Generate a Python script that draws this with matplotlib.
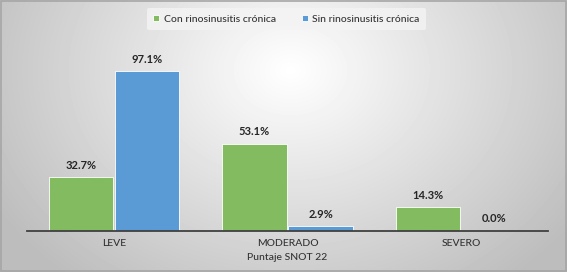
import numpy as np
import matplotlib.pyplot as plt

categorias = ['LEVE', 'MODERADO', 'SEVERO']
con_rs = [32.7, 53.1, 14.3]
sin_rs = [97.1, 2.9, 0.0]
series = ['Con rinosinusitis crónica', 'Sin rinosinusitis crónica']

verde = '#82BB60'
azul = '#5B9BD5'

plt.rcParams['font.family'] = ['Lato', 'DejaVu Sans']

fig = plt.figure(figsize=(5.67, 2.72), dpi=100)

# fondo con degradado radial
bg = fig.add_axes([0, 0, 1, 1])
yy, xx = np.mgrid[0:272, 0:567]
r = np.sqrt(((xx - 290) / 330.0) ** 2 + ((yy - 70) / 260.0) ** 2)
val = np.clip(1.0 - 0.25 * r, 0.74, 1.0)
bg.imshow(val, cmap='gray', vmin=0, vmax=1, aspect='auto', extent=[0, 567, 272, 0])
bg.set_xlim(0, 567)
bg.set_ylim(272, 0)
bg.axis('off')
bg.add_patch(plt.Rectangle((1, 1), 565, 270, fill=False, edgecolor='#A6A6A6', lw=1.2))

ax = fig.add_axes([27 / 567, 41 / 272, 521 / 567, 181 / 272])
ax.patch.set_alpha(0)
x = np.arange(len(categorias))
w = 0.37
b1 = ax.bar(x - w / 2 - 0.005, con_rs, w, color=verde, edgecolor='white', lw=0.6, label=series[0])
b2 = ax.bar(x + w / 2 + 0.005, sin_rs, w, color=azul, edgecolor='white', lw=0.6, label=series[1])

for bars, vals in [(b1, con_rs), (b2, sin_rs)]:
    for b, v in zip(bars, vals):
        ax.text(b.get_x() + b.get_width() / 2, v + 4, f'{v:.1f}%', ha='center', va='bottom',
                fontsize=8, fontweight='bold', color='#262626')

ax.set_xlim(-0.5, 2.5)
ax.set_ylim(0, 110)
ax.set_yticks([])
for s in ['top', 'right', 'left']:
    ax.spines[s].set_visible(False)
ax.spines['bottom'].set_color('#404040')
ax.spines['bottom'].set_linewidth(1.3)
ax.set_xticks(x)
ax.set_xticklabels(categorias, fontsize=7.5, color='#333333', fontweight='medium')
ax.tick_params(axis='x', length=0, pad=6)
ax.set_xlabel('Puntaje SNOT 22', fontsize=7.5, color='#333333', fontweight='medium', labelpad=3)

leg = fig.legend(loc='center', bbox_to_anchor=(0.505, 0.93), ncol=2,
                 prop={'size': 7.5, 'weight': 'medium'},
                 frameon=True, handlelength=0.6, handleheight=0.6, columnspacing=2.5,
                 handletextpad=0.4, borderpad=0.6)
leg.get_frame().set_facecolor('#F4F4F4')
leg.get_frame().set_edgecolor('none')
leg.get_frame().set_alpha(0.8)
for t in leg.get_texts():
    t.set_color('#333333')

fig.savefig('out.png', dpi=100)
